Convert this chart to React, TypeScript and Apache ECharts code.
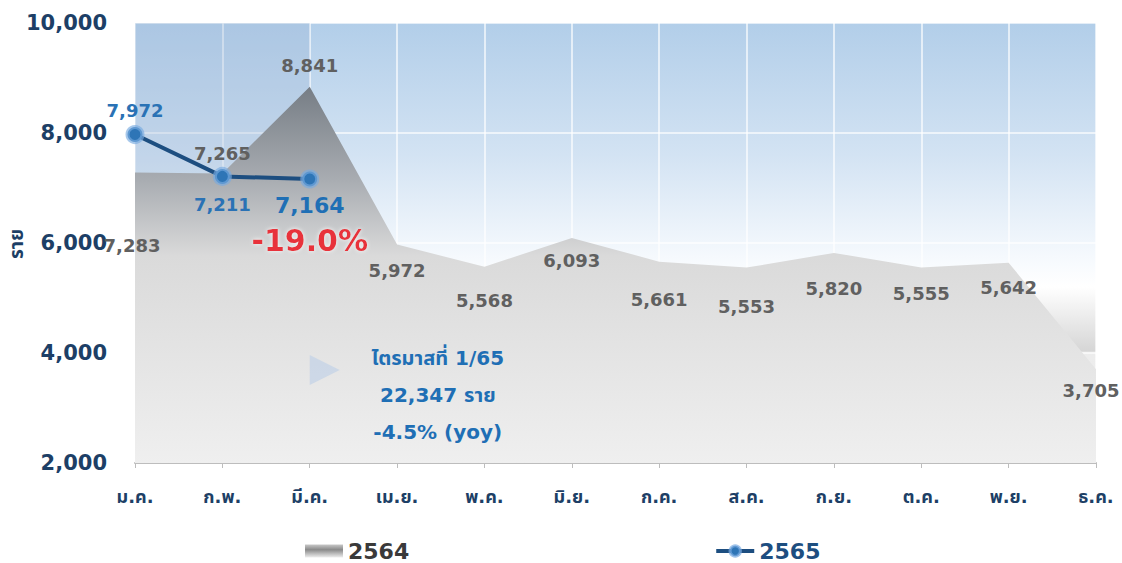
import React, { useEffect, useRef } from 'react';
import * as echarts from 'echarts';

const months = ['ม.ค.', 'ก.พ.', 'มี.ค.', 'เม.ย.', 'พ.ค.', 'มิ.ย.', 'ก.ค.', 'ส.ค.', 'ก.ย.', 'ต.ค.', 'พ.ย.', 'ธ.ค.'];
const cases2564 = [7283, 7265, 8841, 5972, 5568, 6093, 5661, 5553, 5820, 5555, 5642, 3705];
const cases2565 = [7972, 7211, 7164];
const seriesNames = ['2564', '2565'];
const yMin = 2000;
const yMax = 10000;
const yStep = 2000;
const yUnit = 'ราย';
const yoyChange = '-19.0%';
const quarterNote = ['ไตรมาสที่ 1/65', '22,347 ราย', '-4.5% (yoy)'];

// label placement (style, not data)
const labelPlace2564: [string, number][] = [
  ['bottom', 64], ['top', 10], ['top', 12], ['bottom', 16], ['bottom', 24], ['bottom', 13],
  ['bottom', 28], ['bottom', 29], ['bottom', 26], ['bottom', 17], ['bottom', 15], ['bottom', 12],
];
const labelPlace2565: [string, number][] = [['top', 6], ['bottom', 10], ['bottom', 2]];

const FONT = "'DejaVu Sans', 'Noto Sans Thai', 'Noto Sans', sans-serif";
const NAVY = '#1d3f66';
const BLUE = '#2a72b5';
const GRAY = '#606060';

const fmt = (v: number) => v.toLocaleString('en-US');

export default function App() {
  const ref = useRef<HTMLDivElement>(null);
  useEffect(() => {
    document.body.style.margin = '0';
    const chart = echarts.init(ref.current!, null, { renderer: 'svg' });
    const grayGrad = new echarts.graphic.LinearGradient(0, 0, 0, 1, [
      { offset: 0, color: '#767d85' },
      { offset: 0.25, color: '#a9adb2' },
      { offset: 0.45, color: '#dadada' },
      { offset: 1, color: '#efefef' },
    ]);
    const option: any = {
      animation: false,
      textStyle: { fontFamily: FONT },
      grid: {
        left: 135, right: 26, top: 23, bottom: 100, show: true, borderWidth: 0,
        outerBoundsMode: 'none', containLabel: false,
        backgroundColor: new echarts.graphic.LinearGradient(0, 0, 0, 1, [
          { offset: 0, color: '#b2cee9' },
          { offset: 0.3, color: '#d3e3f3' },
          { offset: 0.55, color: '#f8fbfe' },
          { offset: 0.6, color: '#ffffff' },
          { offset: 0.745, color: '#d6d6d6' },
          { offset: 0.75, color: '#ececec' },
          { offset: 1, color: '#f0f0f0' },
        ]),
      },
      legend: {
        left: 300, top: 535, itemGap: 305, itemWidth: 38, itemHeight: 13,
        data: [
          { name: seriesNames[0], icon: 'rect', itemStyle: { color: new echarts.graphic.LinearGradient(0, 0, 0, 1, [{ offset: 0, color: '#c8c8c8' }, { offset: 0.4, color: '#8a8a8a' }, { offset: 1, color: '#eeeeee' }]) }, textStyle: { color: '#3a3a3a' } },
          { name: seriesNames[1], textStyle: { color: '#1d4e80' }, lineStyle: { width: 4, color: '#1d4e80' }, itemStyle: { color: '#2e75b6', borderColor: 'rgba(120,170,225,0.7)', borderWidth: 3 } },
        ],
        textStyle: { fontSize: 22, lineHeight: 22, fontWeight: 'bold', fontFamily: FONT },
      },
      xAxis: {
        type: 'category', data: months, boundaryGap: false,
        axisLine: { lineStyle: { color: '#bdbdbd', width: 2 } },
        axisTick: { show: true, length: 5, lineStyle: { color: '#bdbdbd' } },
        axisLabel: { color: NAVY, fontSize: 18, fontWeight: 'bold', margin: 24, fontFamily: FONT },
        splitLine: { show: true, lineStyle: { color: 'rgba(255,255,255,0.85)', width: 1.5 } },
      },
      yAxis: {
        type: 'value', min: yMin, max: yMax, interval: yStep,
        axisLine: { show: false }, axisTick: { show: false },
        axisLabel: { color: NAVY, fontSize: 21, fontWeight: 'bold', margin: 28, formatter: (v: number) => fmt(v), fontFamily: FONT },
        splitLine: { lineStyle: { color: 'rgba(255,255,255,0.85)', width: 1.5 } },
      },
      series: [
        {
          name: seriesNames[0], type: 'line', z: 2,
          data: cases2564.map((v, i) => ({
            value: v,
            label: {
              position: labelPlace2564[i][0], distance: labelPlace2564[i][1],
              offset: i === 0 ? [-3, 0] : i === cases2564.length - 1 ? [-5, 0] : [0, 0],
            },
          })),
          symbol: 'circle', symbolSize: 1, showSymbol: true,
          itemStyle: { color: 'rgba(0,0,0,0)' },
          lineStyle: { width: 0 },
          areaStyle: { color: grayGrad, opacity: 1 },
          label: { show: true, color: GRAY, fontSize: 18, fontWeight: 'bold', fontFamily: FONT, formatter: (p: any) => fmt(p.value) },
        },
        {
          name: 'q1', type: 'line', z: 3, data: [],
          markArea: {
            silent: true,
            itemStyle: { color: 'rgba(160,185,215,0.32)' },
            data: [[{ xAxis: months[0] }, { xAxis: months[2] }]],
          },
        },
        {
          name: seriesNames[1], type: 'line', z: 5,
          data: cases2565.map((v, i) => ({
            value: v,
            label: i === 2
              ? { position: 'bottom', distance: labelPlace2565[i][1], formatter: (p: any) => `{a|${fmt(p.value)}}\n{b|${yoyChange}}`, rich: {
                  a: { color: '#1f6fb5', fontSize: 22, fontWeight: 'bold', fontFamily: FONT, lineHeight: 30 },
                  b: { color: '#e8323a', fontSize: 30, fontWeight: 'bold', fontFamily: FONT, lineHeight: 40, textShadowColor: 'rgba(255,255,255,0.9)', textShadowBlur: 4 },
                } }
              : { position: labelPlace2565[i][0], distance: labelPlace2565[i][1] },
          })),
          symbol: 'circle', symbolSize: 15,
          itemStyle: { color: '#2e75b6', borderColor: 'rgba(120,170,225,0.65)', borderWidth: 4 },
          lineStyle: { color: '#1d4e80', width: 4 },
          label: { show: true, color: BLUE, fontSize: 18, fontWeight: 'bold', fontFamily: FONT, formatter: (p: any) => fmt(p.value) },
        },
      ],
    };
    chart.setOption(option);
    const a = chart.convertToPixel({ gridIndex: 0 }, [2, 3690]) as number[];
    const n3 = chart.convertToPixel({ gridIndex: 0 }, [3, 3236]) as number[];
    const n4 = chart.convertToPixel({ gridIndex: 0 }, [4, 3236]) as number[];
    const mid = chart.convertToPixel({ gridIndex: 0 }, [0, 6000]) as number[];
    chart.setOption({
      graphic: [
        { type: 'text', z: 10, x: 16, y: mid[1] + 1, rotation: Math.PI / 2, style: {
          text: yUnit, fill: NAVY, fontSize: 19, fontWeight: 'bold', fontFamily: FONT, align: 'center', verticalAlign: 'middle',
        } },
        { type: 'polygon', z: 10, shape: { points: [[a[0], a[1] - 15], [a[0] + 30, a[1]], [a[0], a[1] + 15]] }, style: { fill: 'rgba(200,213,230,0.85)' } },
        { type: 'text', z: 10, x: (n3[0] + n4[0]) / 2 - 3, y: n3[1], style: {
          text: quarterNote.join('\n'), fill: '#1f6fb5', fontSize: 20, fontWeight: 'bold', fontFamily: FONT,
          align: 'center', verticalAlign: 'middle', lineHeight: 37,
        } },
      ],
    });
    return () => chart.dispose();
  }, []);
  return <div ref={ref} style={{ width: 1122, height: 563 }} />;
}
